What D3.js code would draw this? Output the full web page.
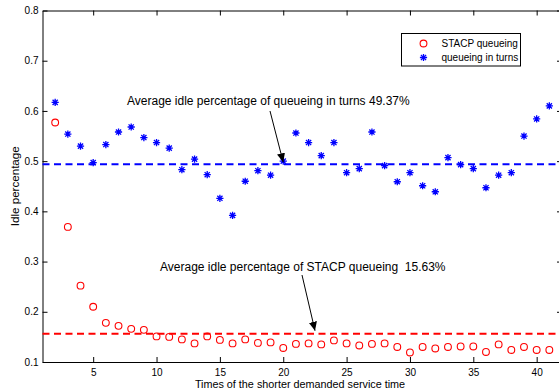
<!DOCTYPE html>
<html>
<head>
<meta charset="utf-8">
<script src="https://cdn.jsdelivr.net/npm/d3@7"></script>
<style>
html,body{margin:0;padding:0;background:#fff;}
svg{display:block;font-family:"Liberation Sans",Arial,sans-serif;}
</style>
</head>
<body>
<svg id="chart" width="559" height="391"></svg>
<script>
const xValues = [2,3,4,5,6,7,8,9,10,11,12,13,14,15,16,17,18,19,20,21,22,23,24,25,26,27,28,29,30,31,32,33,34,35,36,37,38,39,40,41];
const stacpQueueing = [0.577,0.369,0.252,0.210,0.178,0.172,0.166,0.164,0.151,0.150,
  0.145,0.137,0.151,0.144,0.137,0.145,0.138,0.139,0.128,0.136,
  0.137,0.135,0.143,0.137,0.133,0.136,0.137,0.130,0.119,0.130,
  0.127,0.130,0.131,0.131,0.120,0.135,0.124,0.130,0.124,0.124];
const queueingInTurns = [0.617,0.554,0.530,0.497,0.533,0.558,0.568,0.547,0.537,0.526,
  0.483,0.504,0.473,0.426,0.392,0.460,0.481,0.472,0.500,0.556,
  0.537,0.511,0.537,0.477,0.485,0.558,0.491,0.459,0.477,0.451,
  0.439,0.507,0.493,0.485,0.447,0.472,0.477,0.550,0.584,0.610];
const averages = [0.4937, 0.1563];
const xTicks = [5,10,15,20,25,30,35,40];
const yTicks = [0.1,0.2,0.3,0.4,0.5,0.6,0.7,0.8];
const seriesNames = ["STACP queueing", "queueing in turns"];
const annotationTexts = ["Average idle percentage of queueing in turns 49.37%", "Average idle percentage of STACP queueing  15.63%"];
const xLabel = "Times of the shorter demanded service time";
const yLabel = "Idle percentage";

const svg = d3.select("#chart");
const L = 42.5, R = 562, T = 10.5, B = 362;
const x = d3.scaleLinear().domain([1,42]).range([L,R]);
const y = d3.scaleLinear().domain([0.1,0.8]).range([B,T]);

svg.append("rect").attr("x",L).attr("y",T).attr("width",R-L).attr("height",B-T).attr("fill","#fff");

function styleAxis(g){
  g.selectAll("path").attr("stroke","#000").attr("stroke-width",1);
  g.selectAll("line").attr("stroke","#000").attr("stroke-width",1);
  g.selectAll("text").attr("fill","#000").attr("font-size",10).attr("font-family","Liberation Sans, Arial, sans-serif");
}

svg.append("g").attr("transform",`translate(0,${B})`)
  .call(d3.axisBottom(x).tickValues(xTicks).tickFormat(d3.format("d")).tickSizeInner(-5).tickSizeOuter(0).tickPadding(7))
  .call(styleAxis);
svg.append("g").attr("transform",`translate(0,${T})`)
  .call(d3.axisTop(x).tickValues(xTicks).tickFormat("").tickSizeInner(-5).tickSizeOuter(0))
  .call(styleAxis);
svg.append("g").attr("transform",`translate(${L},0)`)
  .call(d3.axisLeft(y).tickValues(yTicks).tickFormat(d3.format(".1f")).tickSizeInner(-5).tickSizeOuter(0).tickPadding(4))
  .call(styleAxis);
svg.append("g").attr("transform",`translate(${R},0)`)
  .call(d3.axisRight(y).tickValues(yTicks).tickFormat("").tickSizeInner(-5).tickSizeOuter(0))
  .call(styleAxis);

const avgColors = ["#0000ff","#ff0000"];
averages.forEach((v,i)=>{
  svg.append("line").attr("x1",L).attr("x2",R).attr("y1",y(v)).attr("y2",y(v))
    .attr("stroke",avgColors[i]).attr("stroke-width",2).attr("stroke-dasharray","7,4.5");
});

svg.append("g").selectAll("circle").data(stacpQueueing).join("circle")
  .attr("cx",(d,i)=>x(xValues[i])).attr("cy",d=>y(d)).attr("r",3.4)
  .attr("fill","none").attr("stroke","#ff0000").attr("stroke-width",1.1);

function starPath(cx,cy,s){
  const d = s*0.72;
  return `M${cx-s},${cy}L${cx+s},${cy}M${cx},${cy-s}L${cx},${cy+s}M${cx-d},${cy-d}L${cx+d},${cy+d}M${cx-d},${cy+d}L${cx+d},${cy-d}`;
}
svg.append("g").selectAll("path").data(queueingInTurns).join("path")
  .attr("d",(d,i)=>starPath(x(xValues[i]),y(d),3.6))
  .attr("fill","none").attr("stroke","#0000ff").attr("stroke-width",1.3);

svg.append("defs").append("marker").attr("id","arr").attr("viewBox","0 0 10 10")
  .attr("refX",10).attr("refY",5).attr("markerWidth",9).attr("markerHeight",9)
  .attr("markerUnits","userSpaceOnUse").attr("orient","auto")
  .append("path").attr("d","M0,0.5L10,5L0,9.5Z").attr("fill","#000");

const ann = [
  {text:annotationTexts[0], tx:127, ty:105, ax1:270, ay1:111, ax2:x(20), ay2:y(averages[0])-2},
  {text:annotationTexts[1], tx:160, ty:270.5, ax1:302, ay1:275, ax2:315, ay2:y(averages[1])-3}
];
ann.forEach(a=>{
  svg.append("text").attr("x",a.tx).attr("y",a.ty).attr("font-size",12).attr("fill","#000")
    .style("white-space","pre").text(a.text);
  svg.append("line").attr("x1",a.ax1).attr("y1",a.ay1).attr("x2",a.ax2).attr("y2",a.ay2)
    .attr("stroke","#000").attr("stroke-width",1).attr("marker-end","url(#arr)");
});

const lg = svg.append("g");
lg.append("rect").attr("x",401.5).attr("y",33.5).attr("width",119).attr("height",32.5)
  .attr("fill","#fff").attr("stroke","#000").attr("stroke-width",1);
lg.append("circle").attr("cx",423.5).attr("cy",43.5).attr("r",3.4).attr("fill","none").attr("stroke","#ff0000").attr("stroke-width",1.1);
lg.append("path").attr("d",starPath(423.5,57.5,3.6)).attr("fill","none").attr("stroke","#0000ff").attr("stroke-width",1.3);
lg.append("text").attr("x",441.5).attr("y",47).attr("font-size",10).attr("fill","#000").text(seriesNames[0]);
lg.append("text").attr("x",441.5).attr("y",61).attr("font-size",10).attr("fill","#000").text(seriesNames[1]);

svg.append("text").attr("x",300).attr("y",387.5).attr("text-anchor","middle").attr("font-size",10.8).attr("fill","#000").text(xLabel);
svg.append("text").attr("transform",`translate(18.5,${(T+B)/2}) rotate(-90)`).attr("text-anchor","middle")
  .attr("font-size",11.6).attr("fill","#000").text(yLabel);
</script>
</body>
</html>
